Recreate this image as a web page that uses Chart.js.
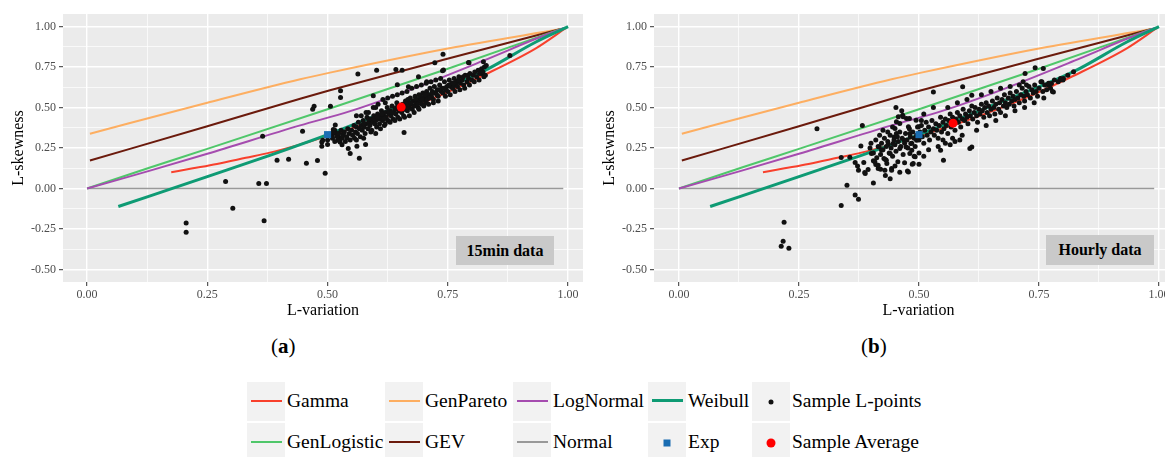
<!DOCTYPE html>
<html lang="en">
<head>
<meta charset="UTF-8">
<title>L-moment ratio diagram</title>
<script src="https://cdn.jsdelivr.net/npm/chart.js"></script>
<style>
  body { margin: 0; width: 1165px; height: 457px; overflow: hidden; background: #fff; position: relative;
         font-family: "Liberation Serif", "DejaVu Serif", serif; color: #000; }
  .panel { position: absolute; top: 0; width: 600px; height: 320px; }
  .tag { position: absolute; background: #c9c9c9; font-weight: bold; font-size: 16px;
         display: flex; align-items: center; justify-content: center; }
  .sub { position: absolute; top: 334px; font-size: 21px; }
  .key { position: absolute; width: 38px; height: 39px; background: #f2f2f2; }
  .key .ln { position: absolute; left: 4px; right: 3px; top: 18px; height: 2px; }
  .key .dot { position: absolute; left: 50%; top: 50%; transform: translate(-50%, -50%); }
  .lab { position: absolute; font-size: 19.5px; line-height: 39px; white-space: nowrap; }
</style>
</head>
<body>
  <div class="panel" style="left:0"><canvas id="chartA"></canvas></div>
  <div class="panel" style="left:591px"><canvas id="chartB"></canvas></div>

  <div class="tag" style="left:456px; top:236px; width:98px; height:29px;">15min data</div>
  <div class="tag" style="left:1046px; top:235px; width:108px; height:30px;">Hourly data</div>

  <div class="sub" style="left:271px">(<b>a</b>)</div>
  <div class="sub" style="left:861px">(<b>b</b>)</div>

  <div id="legend"></div>

<script>
// axis ticks (major every 0.25, minor between)
const xTicks = [0, 0.125, 0.25, 0.375, 0.5, 0.625, 0.75, 0.875, 1];
const yTicks = [-0.5, -0.375, -0.25, -0.125, 0, 0.125, 0.25, 0.375, 0.5, 0.625, 0.75, 0.875, 1];

// theoretical L-moment ratio curves [L-variation, L-skewness]
const gammaCurve = [[0.175,0.101],[0.22,0.125],[0.27,0.152],[0.33,0.19],[0.38,0.222],[0.44,0.27],[0.5,0.325],
  [0.58,0.4],[0.65,0.475],[0.73,0.57],[0.821,0.695],[0.933,0.866],[0.995,0.99]];
const genParetoCurve = [[0.006,0.339],[0.25,0.53],[0.443,0.675],[0.505,0.716],[0.75,0.865],[0.985,0.985]];
const logNormalCurve = [[0,0],[0.131,0.111],[0.25,0.215],[0.443,0.39],[0.547,0.478],[0.65,0.585],[0.824,0.79],
  [0.933,0.925],[0.99,0.99]];
const weibullCurve = [[0.065,-0.111],[0.25,0.074],[0.38,0.205],[0.5,0.333],[0.65,0.51],[0.824,0.725],
  [0.933,0.905],[1,1]];
const genLogisticCurve = [[0,0],[0.131,0.13],[0.25,0.245],[0.5,0.49],[0.75,0.74],[0.985,0.985]];
const gevCurve = [[0.006,0.173],[0.25,0.385],[0.443,0.555],[0.505,0.607],[0.741,0.795],[0.985,0.985]];
const normalCurve = [[0,0],[0.99,0]];
const expPoint = [[0.5,0.333]];

// sample L-points, 15 min data
const samples15min = [
  [0.206,-0.213],[0.206,-0.27],[0.288,0.043],[0.303,-0.122],[0.357,0.031],[0.373,0.031],[0.368,-0.198],
  [0.365,0.323],[0.395,0.175],[0.419,0.181],[0.448,0.354],[0.456,0.157],[0.479,0.173],[0.495,0.095],
  [0.469,0.49],[0.472,0.509],[0.506,0.509],[0.488,0.288],[0.488,0.262],[0.49,0.299],[0.5,0.272],[0.512,0.34],
  [0.523,0.319],[0.526,0.288],[0.515,0.36],[0.527,0.604],[0.527,0.563],[0.563,0.707],[0.602,0.73],[0.642,0.736],
  [0.655,0.73],[0.645,0.641],[0.595,0.573],[0.659,0.346],[0.723,0.777],[0.74,0.83],[0.739,0.727],[0.794,0.777],
  [0.879,0.822],[0.543,0.247],[0.547,0.216],[0.566,0.187],[0.561,0.262],[0.579,0.272],[0.689,0.69],[0.706,0.66],
  [0.668,0.628],[0.741,0.732],[0.793,0.779],[0.824,0.783],[0.82,0.711],[0.58,0.47],[0.6,0.5],[0.56,0.45],[0.62,0.53],
  [0.516,0.392],[0.512,0.365],[0.519,0.34],[0.51,0.319],[0.522,0.299],[0.533,0.34],[0.54,0.313],
  [0.5,0.3],[0.505,0.33],[0.51,0.31],[0.512,0.35],[0.515,0.29],[0.52,0.32],[0.523,0.34],[0.525,0.3],[0.528,0.36],
  [0.53,0.27],[0.53,0.31],[0.532,0.33],[0.535,0.35],[0.537,0.29],[0.54,0.32],[0.542,0.37],[0.545,0.34],[0.547,0.3],
  [0.55,0.36],[0.552,0.33],[0.555,0.39],[0.556,0.31],[0.558,0.35],[0.56,0.38],[0.562,0.34],[0.564,0.41],[0.566,0.37],
  [0.568,0.32],[0.57,0.39],[0.572,0.36],[0.574,0.42],[0.576,0.38],[0.578,0.34],[0.58,0.4],[0.582,0.44],[0.584,0.37],
  [0.586,0.41],[0.588,0.39],[0.59,0.43],[0.592,0.36],[0.594,0.41],[0.596,0.45],[0.598,0.4],[0.6,0.42],[0.602,0.38],
  [0.604,0.46],[0.606,0.43],[0.608,0.4],[0.61,0.44],[0.612,0.48],[0.614,0.42],[0.616,0.45],[0.618,0.39],[0.62,0.47],
  [0.622,0.44],[0.624,0.5],[0.626,0.42],[0.628,0.46],[0.63,0.48],[0.632,0.45],[0.634,0.51],[0.636,0.43],[0.638,0.47],
  [0.64,0.49],[0.642,0.46],[0.644,0.53],[0.646,0.44],[0.648,0.48],[0.652,0.5],[0.654,0.47],[0.656,0.52],[0.658,0.45],
  [0.66,0.49],[0.662,0.54],[0.664,0.51],[0.666,0.48],[0.668,0.53],[0.67,0.5],[0.672,0.56],[0.674,0.52],[0.676,0.49],
  [0.678,0.54],[0.68,0.51],[0.682,0.57],[0.684,0.53],[0.686,0.55],[0.688,0.5],[0.69,0.58],[0.692,0.54],[0.694,0.56],
  [0.696,0.52],[0.698,0.59],[0.7,0.55],[0.702,0.57],[0.704,0.53],[0.706,0.6],[0.708,0.56],[0.71,0.58],[0.713,0.62],
  [0.716,0.57],[0.718,0.6],[0.72,0.55],[0.722,0.63],[0.725,0.59],[0.728,0.61],[0.73,0.57],[0.733,0.64],[0.736,0.6],
  [0.738,0.62],[0.74,0.59],[0.743,0.66],[0.746,0.61],[0.748,0.63],[0.75,0.6],[0.753,0.67],[0.756,0.63],[0.758,0.65],
  [0.76,0.62],[0.763,0.68],[0.766,0.64],[0.768,0.66],[0.77,0.63],[0.773,0.69],[0.776,0.65],[0.78,0.67],[0.783,0.64],
  [0.786,0.7],[0.79,0.66],[0.793,0.68],[0.796,0.71],[0.8,0.67],[0.803,0.7],[0.806,0.72],[0.81,0.69],[0.813,0.73],
  [0.816,0.71],[0.82,0.74],[0.823,0.72],[0.826,0.75],[0.828,0.7],[0.83,0.76],
  [0.56,0.3],[0.57,0.45],[0.575,0.31],[0.585,0.47],[0.59,0.35],[0.595,0.5],[0.6,0.34],[0.605,0.52],[0.61,0.37],
  [0.615,0.55],[0.62,0.4],[0.625,0.56],[0.63,0.41],[0.635,0.57],[0.64,0.42],[0.645,0.58],[0.65,0.43],[0.655,0.59],
  [0.66,0.44],[0.665,0.6],[0.67,0.45],[0.675,0.62],[0.68,0.47],[0.685,0.63],[0.69,0.49],[0.695,0.64],[0.7,0.51],
  [0.705,0.65],[0.71,0.52],[0.715,0.66],[0.72,0.53],[0.725,0.67],[0.73,0.54],[0.735,0.68],[0.745,0.57],[0.755,0.58],
  [0.765,0.6],[0.775,0.61],[0.785,0.62],[0.795,0.64],[0.805,0.66],[0.815,0.67],[0.825,0.69],
  [0.575,0.4],[0.585,0.43],[0.597,0.43],[0.603,0.44],[0.613,0.46],[0.617,0.43],[0.627,0.48],[0.633,0.47],[0.643,0.5],
  [0.647,0.51],[0.657,0.49],[0.663,0.52],[0.667,0.55],[0.673,0.53],[0.683,0.55],[0.687,0.52],[0.693,0.57],[0.697,0.55],
  [0.703,0.58],[0.707,0.55],[0.712,0.56],[0.717,0.59],[0.727,0.58],[0.732,0.61],[0.742,0.62],[0.752,0.64],[0.762,0.65],
  [0.772,0.67],[0.782,0.69],[0.792,0.7]
];

// sample L-points, hourly data
const samplesHourly = [
  [0.2875,0.369],[0.382,0.39],[0.219,-0.208],[0.217,-0.326],[0.213,-0.357],[0.229,-0.369],[0.338,-0.105],
  [0.35,0.02],[0.367,-0.04],[0.374,-0.066],[0.338,0.192],[0.356,0.194],[0.367,0.161],[0.372,0.14],[0.374,0.113],
  [0.379,0.263],[0.385,0.161],[0.387,0.099],[0.394,0.117],[0.398,0.251],[0.401,0.216],[0.405,0.035],[0.405,0.171],
  [0.41,0.148],[0.415,0.124],[0.417,0.257],[0.388,0.093],[0.408,0.165],[0.415,0.144],[0.422,0.237],[0.427,0.186],
  [0.429,0.113],[0.433,0.155],[0.44,0.216],[0.443,0.124],[0.446,0.278],[0.448,0.319],[0.453,0.34],[0.45,0.371],
  [0.453,0.412],[0.457,0.443],[0.46,0.402],[0.466,0.453],[0.452,0.5],[0.464,0.48],[0.474,0.433],[0.478,0.381],
  [0.481,0.34],[0.483,0.278],[0.485,0.237],[0.476,0.109],[0.488,0.155],[0.492,0.196],[0.495,0.299],[0.499,0.381],
  [0.494,0.422],[0.469,0.299],[0.46,0.247],[0.456,0.165],[0.436,0.274],[0.473,0.257],[0.481,0.216],[0.53,0.597],
  [0.591,0.628],[0.61,0.577],[0.742,0.746],[0.759,0.742],[0.721,0.711],[0.717,0.659],[0.724,0.639],[0.709,0.639],
  [0.756,0.659],[0.77,0.639],[0.776,0.649],[0.78,0.597],[0.794,0.67],[0.801,0.68],[0.822,0.721],[0.467,0.443],
  [0.48,0.433],[0.606,0.247],[0.61,0.257],[0.551,0.175],[0.545,0.237],[0.443,0.113],[0.478,0.103],[0.486,0.15],
  [0.432,0.175],
  [0.4,0.28],[0.405,0.22],[0.41,0.3],[0.412,0.19],[0.415,0.26],[0.418,0.33],[0.42,0.21],[0.422,0.28],[0.425,0.24],
  [0.428,0.31],[0.43,0.18],[0.432,0.26],[0.435,0.29],[0.438,0.22],[0.44,0.33],[0.442,0.25],[0.445,0.2],[0.448,0.3],
  [0.45,0.27],[0.452,0.23],[0.455,0.32],[0.457,0.29],[0.46,0.35],[0.462,0.26],[0.465,0.31],[0.467,0.21],[0.47,0.28],
  [0.472,0.34],[0.475,0.3],[0.477,0.25],[0.48,0.37],[0.482,0.32],[0.485,0.28],[0.487,0.35],[0.49,0.31],[0.492,0.26],
  [0.495,0.33],[0.497,0.38],[0.5,0.3],[0.502,0.35],[0.505,0.39],[0.507,0.32],[0.51,0.28],[0.512,0.36],[0.515,0.41],
  [0.517,0.33],[0.52,0.38],[0.522,0.3],[0.525,0.35],[0.527,0.42],[0.53,0.37],[0.532,0.33],[0.535,0.4],[0.537,0.36],
  [0.54,0.31],[0.542,0.39],[0.545,0.44],[0.547,0.35],[0.55,0.41],[0.552,0.37],[0.555,0.43],[0.557,0.39],[0.56,0.34],
  [0.562,0.42],[0.565,0.46],[0.567,0.38],[0.57,0.44],[0.572,0.4],[0.575,0.36],[0.577,0.43],[0.58,0.47],[0.582,0.41],
  [0.585,0.45],[0.587,0.38],[0.59,0.43],[0.592,0.49],[0.595,0.42],[0.597,0.46],[0.6,0.44],[0.602,0.4],[0.605,0.48],
  [0.607,0.45],[0.61,0.51],[0.612,0.43],[0.615,0.47],[0.617,0.5],[0.62,0.45],[0.622,0.41],[0.625,0.49],[0.627,0.46],
  [0.63,0.52],[0.632,0.48],[0.635,0.44],[0.637,0.5],[0.64,0.53],[0.642,0.47],[0.645,0.51],[0.647,0.45],[0.65,0.49],
  [0.653,0.54],[0.656,0.5],[0.658,0.46],[0.66,0.52],[0.663,0.56],[0.666,0.49],[0.668,0.53],[0.67,0.47],[0.673,0.55],
  [0.676,0.51],[0.678,0.58],[0.68,0.53],[0.683,0.5],[0.686,0.56],[0.688,0.52],[0.69,0.59],[0.693,0.54],[0.696,0.57],
  [0.698,0.51],[0.7,0.55],[0.703,0.6],[0.706,0.56],[0.709,0.53],[0.712,0.58],[0.715,0.62],[0.718,0.57],[0.72,0.54],
  [0.723,0.6],[0.726,0.58],[0.729,0.63],[0.732,0.56],[0.735,0.61],[0.738,0.59],[0.741,0.64],[0.744,0.6],[0.747,0.57],
  [0.75,0.62],[0.754,0.66],[0.758,0.6],[0.762,0.64],[0.766,0.61],[0.77,0.65],[0.774,0.62],[0.778,0.6],[0.782,0.67],
  [0.79,0.66],[0.795,0.68],[0.8,0.67],[0.81,0.7],
  [0.42,0.12],[0.43,0.08],[0.44,0.06],[0.45,0.14],[0.46,0.1],[0.47,0.16],[0.49,0.2],[0.5,0.22],[0.51,0.46],
  [0.52,0.24],[0.53,0.5],[0.54,0.26],[0.55,0.3],[0.56,0.5],[0.57,0.31],[0.58,0.53],[0.59,0.33],[0.6,0.55],
  [0.62,0.36],[0.63,0.58],[0.64,0.39],[0.66,0.42],[0.68,0.45],[0.7,0.48],[0.72,0.5],[0.74,0.53],[0.76,0.56],
  [0.65,0.6],[0.67,0.62],[0.69,0.63],[0.555,0.28],[0.565,0.27],[0.575,0.29],[0.585,0.3],[0.5,0.15],[0.505,0.42],
  [0.51,0.2],[0.435,0.35],[0.445,0.38],[0.425,0.36]
];

const average15min = [[0.653,0.503]];
const averageHourly = [[0.571,0.404]];

const legendLabels = [['Gamma','GenPareto','LogNormal','Weibull','Sample L-points'],
                      ['GenLogistic','GEV','Normal','Exp','Sample Average']];
const legendColors = [['#f8402c','#fdae61','#a54caf','#0e9b74','#111'],
                      ['#4fc76a','#6b1a0c','#999999','#1a6db2','#ff0000']];
const legendCols = [247, 385, 513, 648, 752];

// legend
const legend = document.getElementById('legend');
legendLabels.forEach((row, r) => {
  row.forEach((label, c) => {
    const top = 382 + r * 41;
    const key = document.createElement('div');
    key.className = 'key';
    key.style.left = legendCols[c] + 'px';
    key.style.top = top + 'px';
    const color = legendColors[r][c];
    if (c < 3 || (r === 0 && c === 3)) {
      key.innerHTML = `<div class="ln" style="background:${color};${c === 3 ? 'height:3px;top:17px' : ''}"></div>`;
    } else if (label === 'Exp') {
      key.innerHTML = `<div class="dot" style="width:7px;height:7px;background:${color}"></div>`;
    } else if (label === 'Sample Average') {
      key.innerHTML = `<div class="dot" style="width:9px;height:9px;border-radius:50%;background:${color}"></div>`;
    } else {
      key.innerHTML = `<div class="dot" style="width:5px;height:5px;border-radius:50%;background:${color}"></div>`;
    }
    legend.appendChild(key);
    const lab = document.createElement('div');
    lab.className = 'lab';
    lab.style.left = (legendCols[c] + 40) + 'px';
    lab.style.top = (top - 1) + 'px';
    lab.textContent = label;
    legend.appendChild(lab);
  });
});

const toXY = arr => arr.map(([x, y]) => ({ x, y }));
const isMajor = v => Math.abs(v * 4 - Math.round(v * 4)) < 1e-6;

function curve(data, color, width, order) {
  return { data: toXY(data), showLine: true, borderColor: color, borderWidth: width, pointRadius: 0,
           cubicInterpolationMode: 'monotone', fill: false, order };
}

const plotBg = {
  id: 'plotBg',
  beforeDraw(chart) {
    const { ctx, chartArea: a } = chart;
    ctx.save();
    ctx.fillStyle = '#ebebeb';
    ctx.fillRect(a.left, a.top, a.right - a.left, a.bottom - a.top);
    ctx.restore();
  }
};

function gridOpts() {
  return {
    color: '#ffffff',
    lineWidth: ctx => isMajor(ctx.tick.value) ? 1.4 : 0.7,
    tickColor: ctx => isMajor(ctx.tick.value) ? '#333333' : 'rgba(0,0,0,0)',
    tickLength: 4,
    tickWidth: 1
  };
}

function makeChart(id, points, avg, xMin, xMax, padRight) {
  new Chart(document.getElementById(id), {
    type: 'scatter',
    data: {
      datasets: [
        { data: toXY(avg), pointRadius: 4.5, backgroundColor: '#ff0000', borderWidth: 0, order: 0 },
        { data: toXY(expPoint), pointStyle: 'rect', pointRadius: 5, backgroundColor: '#1a6db2', borderWidth: 0, order: 1 },
        { data: toXY(points), pointRadius: 2.5, backgroundColor: '#111111', borderWidth: 0, order: 2 },
        curve(weibullCurve, '#0e9b74', 3, 3),
        curve(gammaCurve, '#f8402c', 2, 4),
        curve(logNormalCurve, '#a54caf', 2, 5),
        curve(genLogisticCurve, '#4fc76a', 2, 6),
        curve(gevCurve, '#6b1a0c', 2, 7),
        curve(genParetoCurve, '#fdae61', 2, 8),
        curve(normalCurve, '#999999', 1.5, 9)
      ]
    },
    options: {
      responsive: true,
      maintainAspectRatio: false,
      animation: false,
      layout: { padding: { top: 14, right: padRight, bottom: 0, left: 0 } },
      plugins: { legend: { display: false }, tooltip: { enabled: false } },
      scales: {
        x: {
          type: 'linear', min: xMin, max: xMax,
          afterBuildTicks: s => { s.ticks = xTicks.map(v => ({ value: v })); },
          afterFit: s => { s.height = 38; },
          grid: gridOpts(),
          border: { display: false },
          ticks: { autoSkip: false, maxRotation: 0, padding: 2, color: '#4d4d4d',
                   font: { family: 'Liberation Serif', size: 12 },
                   callback: v => isMajor(v) ? v.toFixed(2) : '' },
          title: { display: true, text: 'L-variation', color: '#000', padding: { top: 0, bottom: 0 },
                   font: { family: 'Liberation Serif', size: 16, lineHeight: 1.2 } }
        },
        y: {
          type: 'linear', min: -0.577, max: 1.078,
          afterBuildTicks: s => { s.ticks = yTicks.map(v => ({ value: v })); },
          afterFit: s => { s.width = 63; },
          grid: gridOpts(),
          border: { display: false },
          ticks: { autoSkip: false, padding: 3, color: '#4d4d4d',
                   font: { family: 'Liberation Serif', size: 12 },
                   callback: v => isMajor(v) ? v.toFixed(2) : '' },
          title: { display: true, text: 'L-skewness', color: '#000', padding: { top: 9, bottom: 0 },
                   font: { family: 'Liberation Serif', size: 16, lineHeight: 1.2 } }
        }
      }
    },
    plugins: [plotBg]
  });
}

makeChart('chartA', samples15min, average15min, -0.05, 1.031, 17);
makeChart('chartB', samplesHourly, averageHourly, -0.052, 1.05, 8);
</script>
</body>
</html>
